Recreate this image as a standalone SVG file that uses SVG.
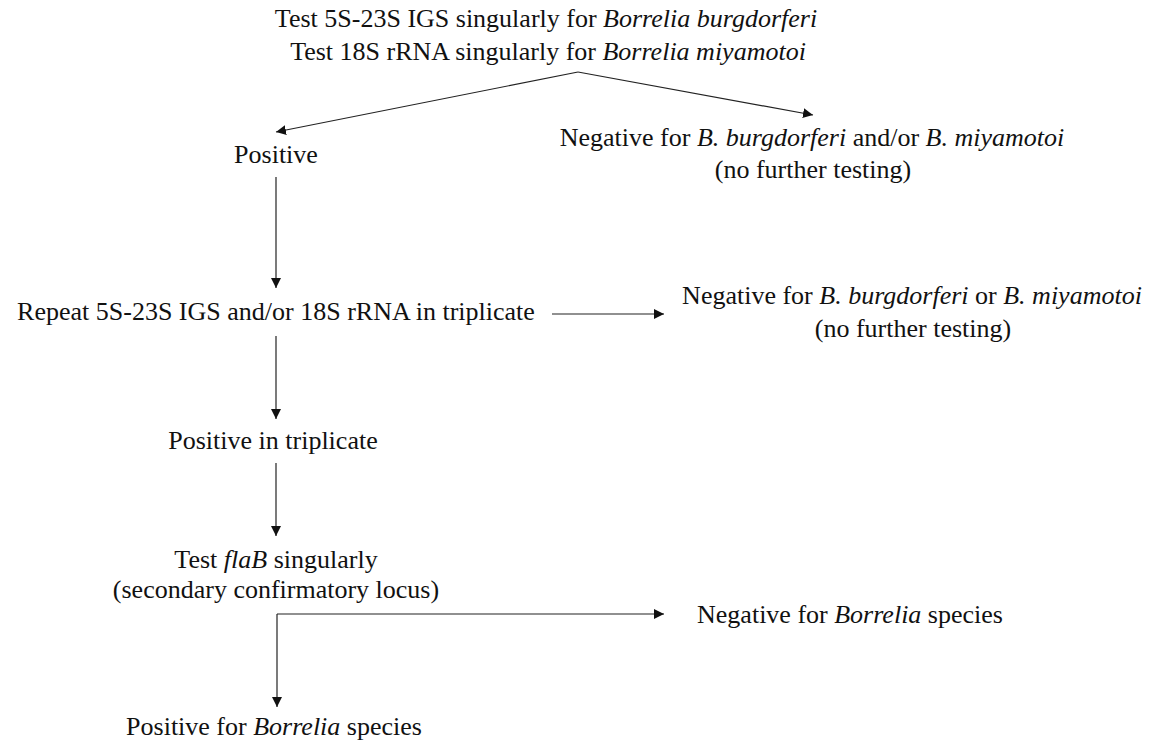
<svg xmlns="http://www.w3.org/2000/svg" width="1159" height="744" viewBox="0 0 1159 744">
<style>
text{font-family:'Liberation Serif','DejaVu Serif',serif;font-size:26px;fill:#111;text-anchor:middle}
.i{font-style:italic}
.c{stroke:#222;stroke-width:1.2;fill:none}
</style>
<defs>
<marker id="a" viewBox="0 0 10 10" refX="10" refY="5" markerWidth="10" markerHeight="10" markerUnits="userSpaceOnUse" orient="auto">
<path d="M0,0 L10,5 L0,10 z" fill="#111"/>
</marker>
</defs>
<rect width="1159" height="744" fill="#fff"/>
<g id="start">
<text x="546" y="27">Test 5S-23S IGS singularly for <tspan class="i">Borrelia burgdorferi</tspan></text>
<text x="548" y="60">Test 18S rRNA singularly for <tspan class="i">Borrelia miyamotoi</tspan></text>
</g>
<g id="positive"><text x="276" y="163">Positive</text></g>
<g id="neg1">
<text x="812" y="146">Negative for <tspan class="i">B. burgdorferi</tspan> and/or <tspan class="i">B. miyamotoi</tspan></text>
<text x="813" y="178">(no further testing)</text>
</g>
<g id="repeat"><text x="276" y="320">Repeat 5S-23S IGS and/or 18S rRNA in triplicate</text></g>
<g id="neg2">
<text x="912" y="304">Negative for <tspan class="i">B. burgdorferi</tspan> or <tspan class="i">B. miyamotoi</tspan></text>
<text x="913" y="337">(no further testing)</text>
</g>
<g id="triplicate"><text x="273" y="449">Positive in triplicate</text></g>
<g id="flab">
<text x="276" y="568">Test <tspan class="i">flaB</tspan> singularly</text>
<text x="276" y="598">(secondary confirmatory locus)</text>
</g>
<g id="neg3"><text x="850" y="623">Negative for <tspan class="i">Borrelia</tspan> species</text></g>
<g id="posb"><text x="274" y="735">Positive for <tspan class="i">Borrelia</tspan> species</text></g>
<g id="connectors">
<path class="c" d="M578,72 L276,132" marker-end="url(#a)"/>
<path class="c" d="M578,72 L813,115" marker-end="url(#a)"/>
<path class="c" d="M276,177 L276,288" marker-end="url(#a)"/>
<path class="c" d="M552,314 L664,314" marker-end="url(#a)"/>
<path class="c" d="M276,336 L276,419" marker-end="url(#a)"/>
<path class="c" d="M276,463 L276,536" marker-end="url(#a)"/>
<path class="c" d="M277,614 L664,614" marker-end="url(#a)"/>
<path class="c" d="M277,614 L277,707" marker-end="url(#a)"/>
</g>
</svg>
